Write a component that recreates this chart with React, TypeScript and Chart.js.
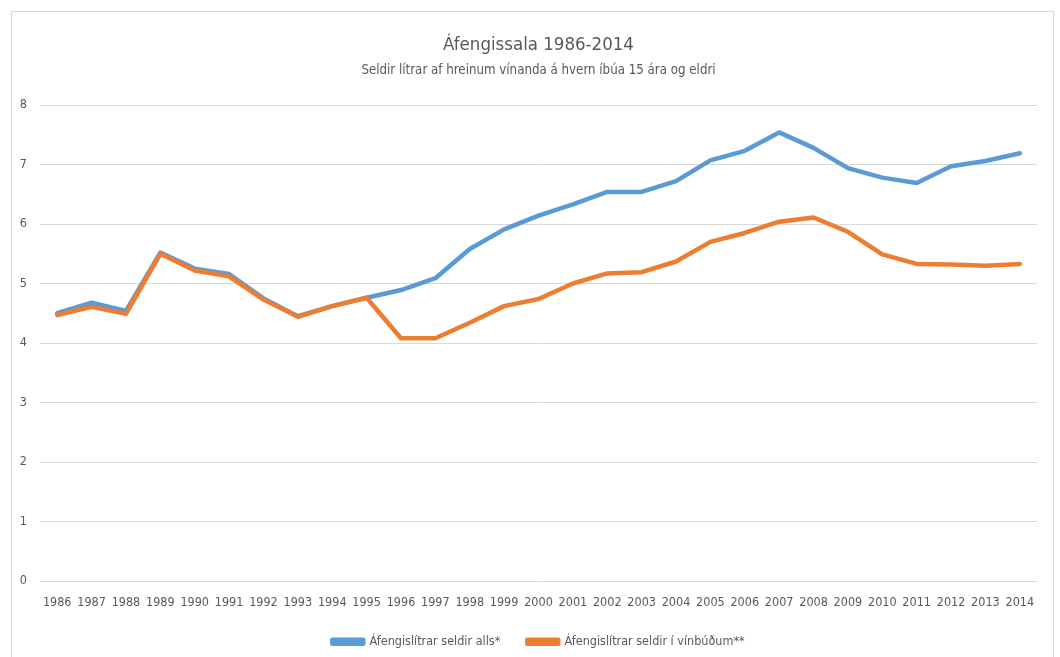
import React, { useEffect, useRef } from "react";
import { Chart, registerables } from "chart.js";

Chart.register(...registerables);

const years = ["1986","1987","1988","1989","1990","1991","1992","1993","1994","1995","1996","1997","1998","1999","2000","2001","2002","2003","2004","2005","2006","2007","2008","2009","2010","2011","2012","2013","2014"];
const seldirAlls = [4.50, 4.68, 4.54, 5.52, 5.25, 5.16, 4.75, 4.45, 4.62, 4.76, 4.89, 5.09, 5.58, 5.91, 6.14, 6.33, 6.54, 6.54, 6.72, 7.07, 7.23, 7.54, 7.28, 6.94, 6.78, 6.69, 6.97, 7.06, 7.19];
const seldirVinbudum = [4.47, 4.61, 4.49, 5.50, 5.22, 5.12, 4.73, 4.44, 4.62, 4.76, 4.08, 4.08, 4.34, 4.62, 4.74, 5.00, 5.17, 5.19, 5.37, 5.70, 5.85, 6.04, 6.11, 5.87, 5.49, 5.33, 5.32, 5.30, 5.33];
const seriesNames = ["Áfengislítrar seldir alls*", "Áfengislítrar seldir í vínbúðum**"];
const titleText = "Áfengissala 1986-2014";
const subtitleText = "Seldir lítrar af hreinum vínanda á hvern íbúa 15 ára og eldri";

const FONT = '"Liberation Sans Narrow", "DejaVu Sans Condensed", "Open Sans", sans-serif';
const TEXT = "#595959";

export default function App() {
  const ref = useRef<HTMLCanvasElement | null>(null);
  useEffect(() => {
    if (!ref.current) return;
    const chart = new Chart(ref.current, {
      type: "line",
      data: {
        labels: years,
        datasets: [
          {
            label: seriesNames[0],
            data: seldirAlls,
            borderColor: "#5B9BD5",
            backgroundColor: "#5B9BD5",
            borderWidth: 4.5,
            pointRadius: 0,
            tension: 0,
            borderJoinStyle: "round",
            borderCapStyle: "round",
            order: 1,
          },
          {
            label: seriesNames[1],
            data: seldirVinbudum,
            borderColor: "#ED7D31",
            backgroundColor: "#ED7D31",
            borderWidth: 4.5,
            pointRadius: 0,
            tension: 0,
            borderJoinStyle: "round",
            borderCapStyle: "round",
            order: 0,
          },
        ],
      },
      options: {
        animation: false,
        responsive: false,
        layout: { padding: { left: 0, right: 23, top: 0, bottom: -1 } },
        plugins: {
          title: {
            display: true,
            fullSize: false,
            text: titleText,
            color: TEXT,
            font: { family: FONT, size: 18.5, weight: "normal" },
            padding: { top: 34, bottom: 0 },
          },
          subtitle: {
            display: true,
            fullSize: false,
            text: subtitleText,
            color: TEXT,
            font: { family: FONT, size: 13.2, weight: "normal" },
            padding: { top: 6, bottom: 27 },
          },
          legend: {
            position: "bottom",
            fullSize: false,
            labels: {
              color: TEXT,
              font: { family: FONT, size: 12.5 },
              boxWidth: 31,
              boxHeight: 4,
              padding: 27,
              sort: (a: any, b: any) => a.datasetIndex - b.datasetIndex,
            },
          },
          tooltip: { enabled: false },
        },
        scales: {
          x: {
            offset: true,
            grid: { display: false, drawTicks: false },
            border: { display: false },
            ticks: {
              color: TEXT,
              font: { family: FONT, size: 12.5 },
              padding: 14,
              maxRotation: 0,
              autoSkip: false,
            },
            afterFit: (s: any) => { s.height = 27.5; },
          },
          y: {
            min: 0,
            max: 8,
            grid: { color: "#d9d9d9", lineWidth: 1, drawTicks: false },
            border: { display: false },
            ticks: {
              stepSize: 1,
              color: TEXT,
              font: { family: FONT, size: 12.5 },
              padding: 13,
            },
            afterFit: (s: any) => { s.width = 40; },
          },
        },
      },
    });
    return () => chart.destroy();
  }, []);

  return (
    <div style={{ position: "fixed", left: 0, top: 0, width: 1060, height: 657, overflow: "hidden", background: "#fff" }}>
      <div style={{ position: "absolute", left: 11, top: 11, width: 1043, height: 720, border: "1px solid #d9d9d9", boxSizing: "border-box" }} />
      <canvas ref={ref} width={1060} height={657} style={{ position: "absolute", left: 0, top: 0 }} />
    </div>
  );
}
